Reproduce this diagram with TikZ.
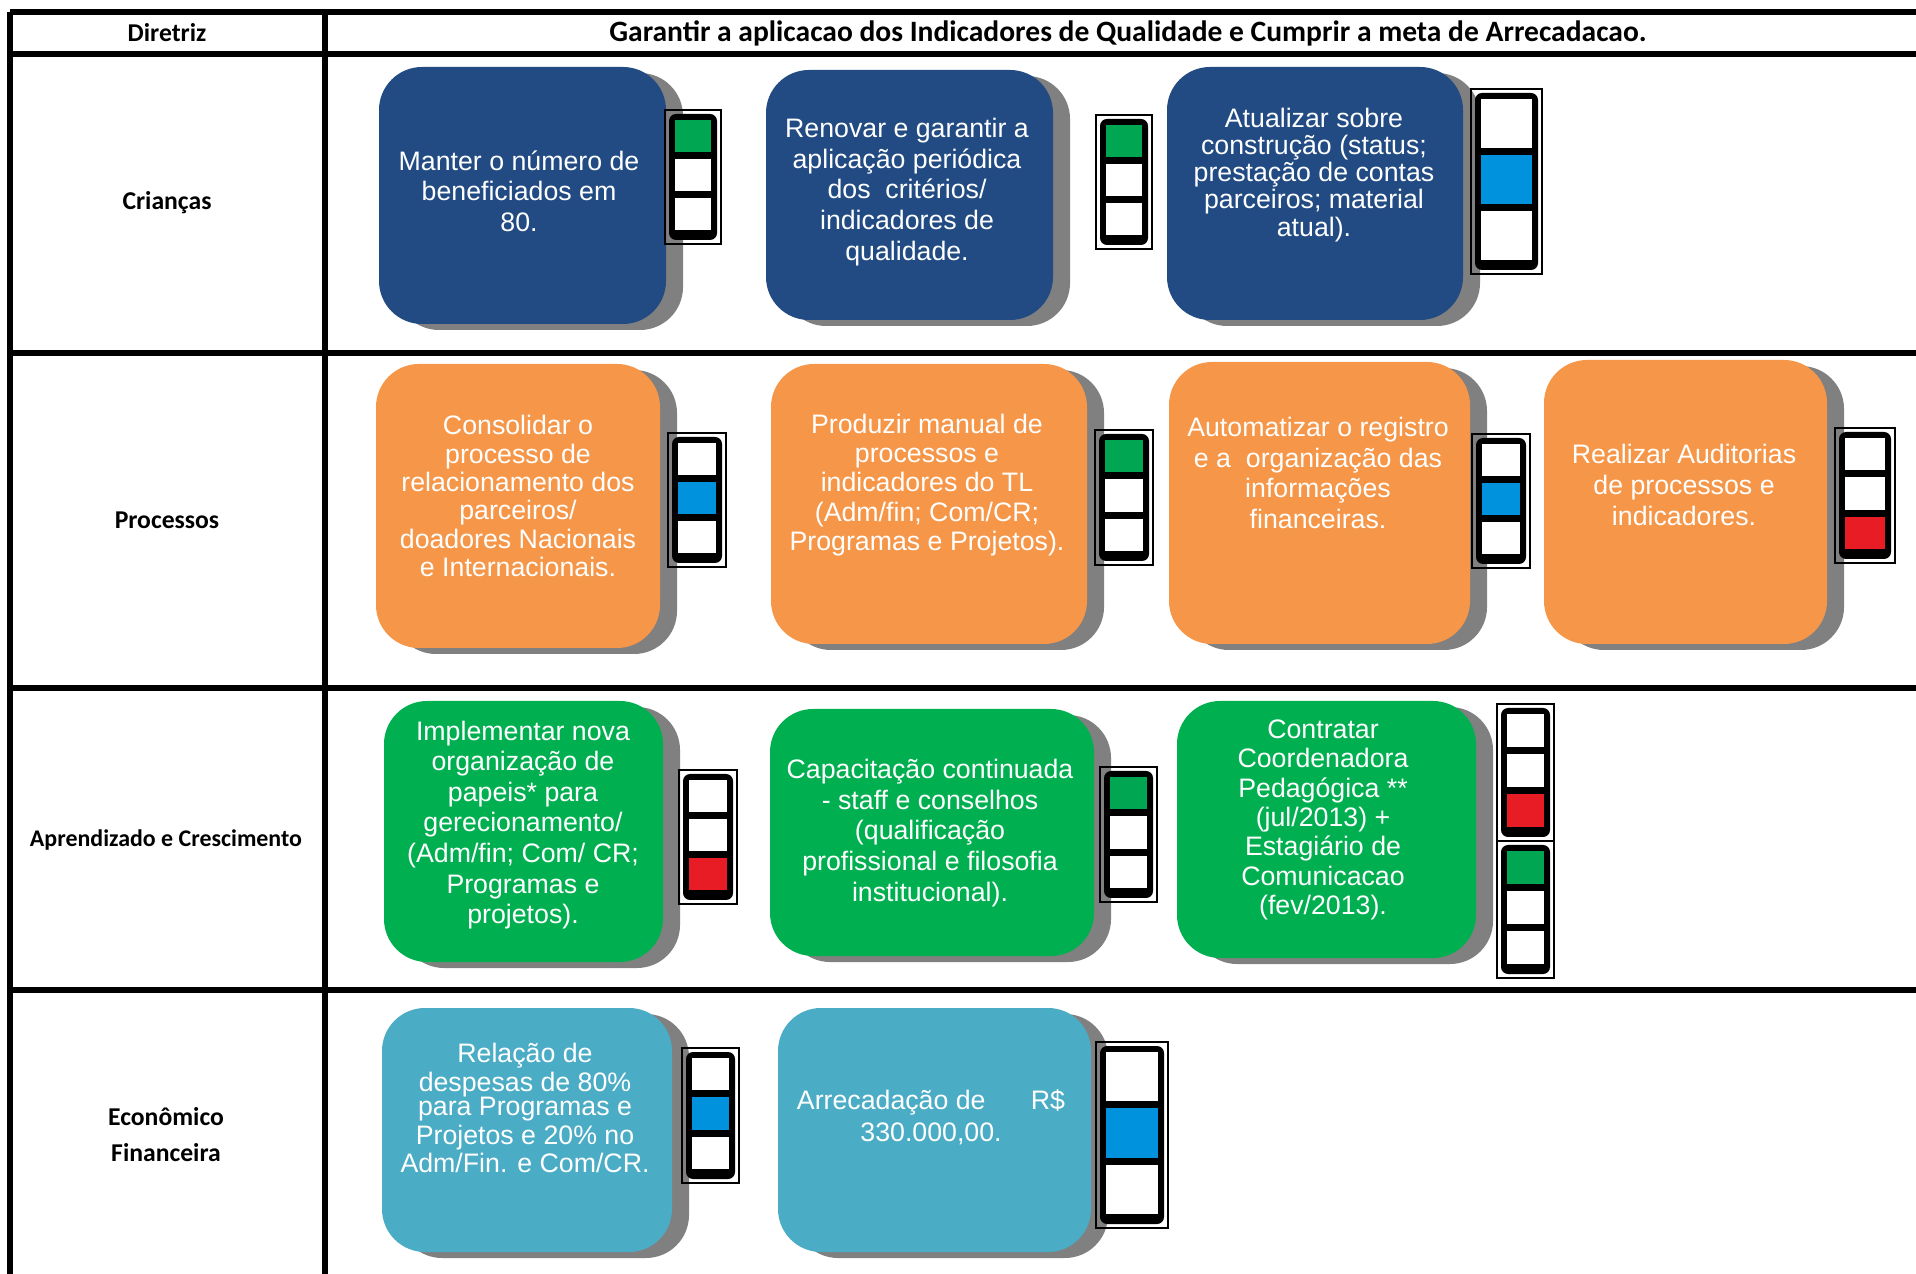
\documentclass[tikz,border=0pt]{standalone}
\usepackage{fontspec}
\setmainfont{Liberation Sans}
\newfontfamily\hdrfont{Carlito}
\usetikzlibrary{shadows}
\definecolor{bxblue}{RGB}{33,75,130}
\definecolor{bxorange}{RGB}{246,150,72}
\definecolor{bxgreen}{RGB}{0,176,80}
\definecolor{bxcyan}{RGB}{75,172,198}
\definecolor{shgray}{RGB}{128,128,128}
\definecolor{lgreen}{RGB}{0,166,81}
\definecolor{lblue}{RGB}{0,146,221}
\definecolor{lred}{RGB}{232,28,36}
\tikzset{
  gridline/.style={line width=1.5pt},
  hdr/.style={font=\hdrfont\bfseries\fontsize{7.3}{8.8}\selectfont, inner sep=0pt, align=center},
  goal/.style={rounded corners=0.43cm, draw=none, inner sep=0pt,
    general shadow={fill=shgray, shadow xshift=0.17cm, shadow yshift=-0.06cm}},
  btxt/.style={text=white, align=center, inner sep=0pt},
}
% x1 y1 x2 y2 (pixels, y downward)
\newcommand\goalbox[6]{%
  \node[goal, fill=#6, minimum width={(#4-#2)*0.01cm}, minimum height={(#5-#3)*0.01cm}]
    (#1) at ({(#2+#4)/2},{(#3+#5)/2}) {};}
% x y w h c1 c2 c3
\newcommand\tlight[7]{%
  \pgfmathsetmacro\tlch{(#4-38)/3}%
  \draw[line width=0.6pt] (#1,#2) rectangle ++(#3,#4);
  \fill[black, rounded corners=0.07cm] ({#1+4},{#2+4}) rectangle ({#1+#3-4},{#2+#4-4});
  \fill[#5] ({#1+10},{#2+10}) rectangle ({#1+#3-10},{#2+10+\tlch});
  \fill[#6] ({#1+10},{#2+17+\tlch}) rectangle ({#1+#3-10},{#2+17+2*\tlch});
  \fill[#7] ({#1+10},{#2+24+2*\tlch}) rectangle ({#1+#3-10},{#2+24+3*\tlch});
}
\begin{document}
\begin{tikzpicture}[x=0.01cm, y=-0.01cm]
\useasboundingbox[fill=white] (0,0) rectangle (1916,1274);

% ---- table ----
\draw[gridline] (10,12) -- (1916,12);
\draw[gridline] (10,54) -- (1916,54);
\draw[gridline] (10,353) -- (1916,353);
\draw[gridline] (10,688) -- (1916,688);
\draw[gridline] (10,990) -- (1916,990);
\draw[gridline] (10,12) -- (10,1274);
\draw[gridline] (325,12) -- (325,1274);

\node[hdr] (hdir) at (167,33) {Diretriz};
\node[hdr, font=\hdrfont\bfseries\fontsize{8.4}{9}\selectfont] (htitle) at (1128,33) {Garantir a aplicacao dos Indicadores de Qualidade e Cumprir a meta de Arrecadacao.};
\node[hdr] (rcri) at (167,203) {Crianças};
\node[hdr] (rpro) at (167,520) {Processos};
\node[hdr, font=\hdrfont\bfseries\fontsize{6.8}{8}\selectfont] (rapr) at (166,840) {Aprendizado e Crescimento};
\node[hdr, font=\hdrfont\bfseries\fontsize{7.3}{10.2}\selectfont] (reco) at (166,1135) {Econômico\\Financeira};

% ---- row 1 ----
\goalbox{b11}{379}{67}{666}{324}{bxblue}
\tlight{665}{110}{56}{134}{lgreen}{white}{white}
\node[btxt, font=\fontsize{7.6}{8.7}\selectfont] (t11) at (519,191) {Manter o número de\\beneficiados em\\80.};

\goalbox{b12}{766}{70}{1053}{320}{bxblue}
\tlight{1096}{115}{56}{134}{lgreen}{white}{white}
\node[btxt, font=\fontsize{7.6}{8.7}\selectfont] (t12) at (907,192) {Renovar e garantir a\\aplicação periódica\\dos~ critérios/\\indicadores de\\qualidade.};

\goalbox{b13}{1167}{67}{1463}{320}{bxblue}
\tlight{1471}{89}{71}{185}{white}{lblue}{white}
\node[btxt, font=\fontsize{7.6}{7.7}\selectfont] (t13) at (1314,175) {Atualizar sobre\\construção (status;\\prestação de contas\\parceiros; material\\atual).};

% ---- row 2 ----
\goalbox{b21}{376}{364}{660}{648}{bxorange}
\tlight{668}{433}{58}{134}{white}{lblue}{white}
\node[btxt, font=\fontsize{7.6}{8.05}\selectfont] (t21) at (518,496) {Consolidar o\\processo de\\relacionamento dos\\parceiros/\\doadores Nacionais\\e Internacionais.};

\goalbox{b22}{771}{364}{1087}{644}{bxorange}
\tlight{1095}{430}{58}{135}{lgreen}{white}{white}
\node[btxt, font=\fontsize{7.6}{8.3}\selectfont] (t22) at (927,485) {Produzir manual de\\processos e\\indicadores do TL\\(Adm/fin; Com/CR;\\Programas e Projetos).};

\goalbox{b23}{1169}{362}{1470}{644}{bxorange}
\tlight{1472}{434}{58}{134}{white}{lblue}{white}
\node[btxt, font=\fontsize{7.6}{8.7}\selectfont] (t23) at (1318,473) {Automatizar o registro\\e a~ organização das\\informações\\financeiras.};

\goalbox{b24}{1544}{360}{1827}{644}{bxorange}
\tlight{1835}{428}{60}{135}{white}{white}{lred}
\node[btxt, font=\fontsize{7.6}{8.7}\selectfont] (t24) at (1684,485) {Realizar Auditorias\\de processos e\\indicadores.};

% ---- row 3 ----
\goalbox{b31}{384}{701}{663}{962}{bxgreen}
\tlight{679}{770}{58}{134}{white}{white}{lred}
\node[btxt, font=\fontsize{7.6}{8.7}\selectfont] (t31) at (523,825) {Implementar nova\\organização de\\papeis* para\\gerecionamento/\\(Adm/fin; Com/ CR;\\Programas e\\projetos).};

\goalbox{b32}{770}{709}{1094}{956}{bxgreen}
\tlight{1100}{767}{57}{135}{lgreen}{white}{white}
\node[btxt, font=\fontsize{7.6}{8.7}\selectfont] (t32) at (930,833) {Capacitação continuada\\- staff e conselhos\\(qualificação\\profissional e filosofia\\institucional).};

\goalbox{b33}{1177}{701}{1476}{958}{bxgreen}
\tlight{1497}{704}{57}{137}{white}{white}{lred}
\tlight{1497}{841}{57}{137}{lgreen}{white}{white}
\node[btxt, font=\fontsize{7.6}{8.35}\selectfont] (t33) at (1323,820) {Contratar\\Coordenadora\\Pedagógica **\\(jul/2013) +\\Estagiário de\\Comunicacao\\(fev/2013).};

% ---- row 4 ----
\goalbox{b41}{382}{1008}{672}{1252}{bxcyan}
\tlight{682}{1048}{57}{135}{white}{lblue}{white}
\node[btxt, font=\fontsize{7.6}{6.95}\selectfont] (t41) at (525,1108) {Relação de\\despesas de 80\%\\para Programas e\\Projetos e 20\% no\\Adm/Fin. e Com/CR.};

\goalbox{b42}{778}{1008}{1091}{1252}{bxcyan}
\tlight{1096}{1042}{72}{186}{white}{lblue}{white}
\node[btxt, font=\fontsize{7.6}{9}\selectfont] (t42) at (931,1117) {\makebox[2.68cm]{Arrecadação de\hfill R\$}\\330.000,00.};
\end{tikzpicture}
\end{document}
